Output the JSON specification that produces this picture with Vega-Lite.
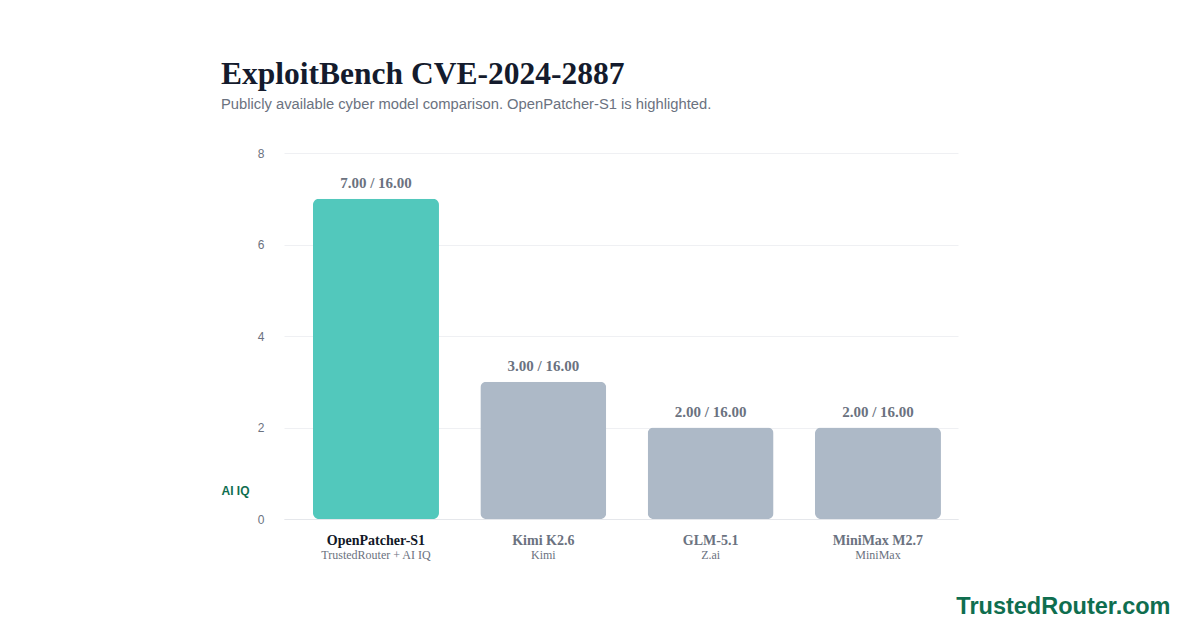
{
  "$schema": "https://vega.github.io/schema/vega-lite/v6.json",
  "width": 674,
  "height": 366,
  "autosize": "none",
  "padding": {"left": 284, "top": 153, "right": 242, "bottom": 111},
  "background": "white",
  "config": {"view": {"stroke": null}},
  "title": {
    "text": "ExploitBench CVE-2024-2887",
    "subtitle": "Publicly available cyber model comparison. OpenPatcher-S1 is highlighted.",
    "anchor": "start",
    "frame": "group",
    "dx": -63,
    "offset": 35,
    "font": "Liberation Serif",
    "fontSize": 31.5,
    "fontWeight": "bold",
    "color": "#141b2d",
    "subtitleFont": "Liberation Sans",
    "subtitleFontSize": 14.75,
    "subtitleColor": "#6b7280",
    "subtitlePadding": 7
  },
  "data": {
    "values": [
      {"model": "OpenPatcher-S1", "provider": "TrustedRouter + AI IQ", "score": 7, "label": "7.00 / 16.00", "highlight": true},
      {"model": "Kimi K2.6", "provider": "Kimi", "score": 3, "label": "3.00 / 16.00", "highlight": false},
      {"model": "GLM-5.1", "provider": "Z.ai", "score": 2, "label": "2.00 / 16.00", "highlight": false},
      {"model": "MiniMax M2.7", "provider": "MiniMax", "score": 2, "label": "2.00 / 16.00", "highlight": false}
    ]
  },
  "encoding": {
    "x": {
      "field": "model",
      "type": "nominal",
      "sort": null,
      "scale": {"paddingInner": 0.247, "paddingOuter": 0.1375, "align": 0.63},
      "axis": {
        "labelAngle": 0,
        "labelFont": "Liberation Serif",
        "labelFontWeight": "bold",
        "labelFontSize": 14,
        "labelColor": {"expr": "datum.value === 'OpenPatcher-S1' ? '#111827' : '#6b7280'"},
        "labelBaseline": "alphabetic",
        "labelPadding": 25,
        "ticks": false,
        "tickSize": 0,
        "domain": true,
        "domainColor": "#e5e7eb",
        "title": "TrustedRouter.com",
        "titleFont": "Liberation Sans",
        "titleFontSize": 23.5,
        "titleFontWeight": "bold",
        "titleColor": "#0f6e4f",
        "titleAlign": "right",
        "titleBaseline": "alphabetic",
        "titleX": 886,
        "titleY": 94
      }
    }
  },
  "layer": [
    {
      "mark": {"type": "bar", "cornerRadius": 6},
      "encoding": {
        "y": {
          "field": "score",
          "type": "quantitative",
          "scale": {"domain": [0, 8]},
          "axis": {
            "values": [0, 2, 4, 6, 8],
            "grid": true,
            "gridColor": "#eff0f3",
            "domain": false,
            "ticks": false,
            "labelPadding": 20,
            "labelFont": "Liberation Sans",
            "labelFontSize": 12,
            "labelColor": "#6b7280",
            "title": "AI IQ",
            "titleAngle": 0,
            "titleX": -63,
            "titleY": 341,
            "titleAlign": "left",
            "titleBaseline": "alphabetic",
            "titleFont": "Liberation Sans",
            "titleFontSize": 12,
            "titleFontWeight": "bold",
            "titleColor": "#0f6e4f"
          }
        },
        "color": {
          "condition": {"test": "datum.highlight", "value": "#52c8bc"},
          "value": "#adb9c7"
        }
      }
    },
    {
      "mark": {"type": "text", "dy": -11, "baseline": "alphabetic", "font": "Liberation Serif", "fontWeight": "bold", "fontSize": 15, "color": "#6b7280"},
      "encoding": {
        "y": {"field": "score", "type": "quantitative"},
        "text": {"field": "label"}
      }
    },
    {
      "mark": {"type": "text", "dy": 39.5, "baseline": "alphabetic", "font": "Liberation Serif", "fontSize": 12, "color": "#6b7280"},
      "encoding": {
        "y": {"datum": 0},
        "text": {"field": "provider"}
      }
    }
  ]
}
